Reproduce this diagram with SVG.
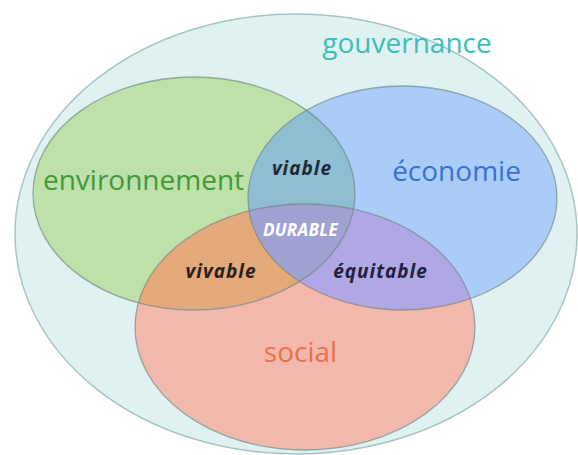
<svg xmlns="http://www.w3.org/2000/svg" width="578" height="455" viewBox="0 0 578 455">
<style>
.big{font-family:"Open Sans","DejaVu Sans",sans-serif;font-size:28px;text-anchor:middle}
.small{font-family:"Open Sans","DejaVu Sans",sans-serif;font-size:19px;font-weight:bold;font-style:italic;letter-spacing:1px;text-anchor:middle}
.edge{fill:none;stroke:#6f8585;stroke-opacity:0.65;stroke-width:1.3}
</style>
<defs>
<clipPath id="cG"><ellipse cx="194" cy="193.5" rx="161" ry="116.5"/></clipPath>
<clipPath id="cB"><ellipse cx="402.5" cy="198" rx="154.5" ry="112"/></clipPath>
</defs>
<rect width="578" height="455" fill="#ffffff"/>
<g id="gouvernance">
<ellipse cx="296" cy="234" rx="281" ry="220" fill="#dff1f1" stroke="#a9c4c4" stroke-width="1.5"/>
<text class="big" x="407" y="53" fill="#3fbcbc">gouvernance</text>
</g>
<g id="environnement">
<ellipse cx="194" cy="193.5" rx="161" ry="116.5" fill="#bee0a9"/>
</g>
<g id="economie">
<ellipse cx="402.5" cy="198" rx="154.5" ry="112" fill="#a9cdf6"/>
</g>
<g id="social">
<ellipse cx="305" cy="327" rx="170" ry="123" fill="#f2b8ab"/>
</g>
<g id="intersections">
<g clip-path="url(#cG)"><ellipse cx="402.5" cy="198" rx="154.5" ry="112" fill="#8fbdd1"/></g>
<g clip-path="url(#cG)"><ellipse cx="305" cy="327" rx="170" ry="123" fill="#e3a97a"/></g>
<g clip-path="url(#cB)"><ellipse cx="305" cy="327" rx="170" ry="123" fill="#afa8e5"/></g>
<g clip-path="url(#cG)"><g clip-path="url(#cB)"><ellipse cx="305" cy="327" rx="170" ry="123" fill="#a0a2d2"/></g></g>
</g>
<g id="outlines">
<ellipse class="edge" cx="194" cy="193.5" rx="161" ry="116.5"/>
<ellipse class="edge" cx="402.5" cy="198" rx="154.5" ry="112"/>
<ellipse class="edge" cx="305" cy="327" rx="170" ry="123"/>
</g>
<g id="labels">
<text class="big" x="143.5" y="190" fill="#3f9a3c">environnement</text>
<text class="big" x="456.5" y="181" fill="#3b6fd6">économie</text>
<text class="big" x="300.5" y="362" fill="#ec7048">social</text>
<text class="small" x="302" y="175" fill="#1e2a38">viable</text>
<text class="small" x="300.5" y="236" fill="#ffffff" style="font-size:17px;letter-spacing:0.3px">DURABLE</text>
<text class="small" x="221" y="278" fill="#2a2018">vivable</text>
<text class="small" x="380.5" y="278" fill="#22203a">équitable</text>
</g>
</svg>
